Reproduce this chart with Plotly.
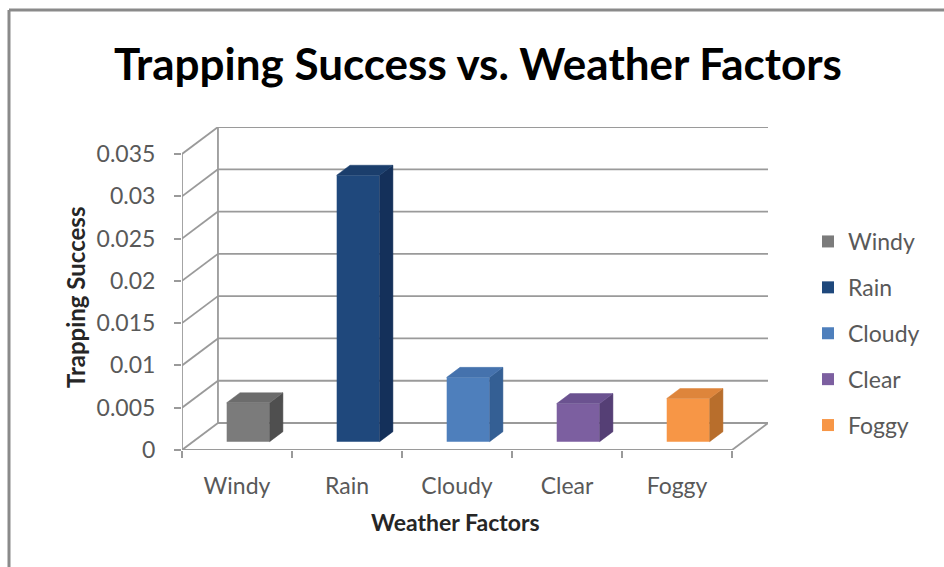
import plotly.graph_objects as go

# ---------------- data ----------------
categories = ["Windy", "Rain", "Cloudy", "Clear", "Foggy"]
values = [0.0046, 0.0315, 0.0076, 0.0045, 0.0051]
y_tick_values = [0, 0.005, 0.01, 0.015, 0.02, 0.025, 0.03, 0.035]
y_tick_labels = ["0", "0.005", "0.01", "0.015", "0.02", "0.025", "0.03", "0.035"]
front_colors = ["#7b7b7b", "#1f487c", "#4e7fbc", "#7c5fa0", "#f79646"]
side_colors = ["#4f4f4f", "#14305a", "#345f94", "#553f75", "#b86e2c"]
top_colors = ["#6c6c6c", "#1b3e6c", "#4572ad", "#6b5290", "#de853b"]

# ---------------- geometry (3-D look) ----------------
W_PX, H_PX = 944, 567
L, R, T, B = 182, 768, 127, 450          # plot area in pixels
DX = 0.327          # depth offset in category units
DY = 0.00319        # depth offset in value units
ZF, ZB = 0.31, 0.68 # bar front/back depth fraction
BW = 0.39           # bar width
YMAX = y_tick_values[-1]
n = len(categories)

def px(xp):
    return (xp - L) / (R - L)

def py(yp):
    return (B - yp) / (B - T)

fig = go.Figure()

GRID = "#9a9a9a"
segments = []
for v in y_tick_values:
    segments.append((-0.5, v, -0.5 + DX, v + DY))
    segments.append((-0.5 + DX, v + DY, n - 0.5 + DX, v + DY))
segments.append((-0.5 + DX, DY, -0.5 + DX, YMAX + DY))   # back-left edge
segments.append((-0.5, 0, -0.5, YMAX))                   # front value axis
segments.append((-0.5, 0, n - 0.5, 0))                   # floor front edge
segments.append((n - 0.5, 0, n - 0.5 + DX, DY))          # floor right edge

shapes = []
for (x0, y0, x1, y1) in segments:
    shapes.append(dict(type="line", xref="x", yref="y", x0=x0, y0=y0, x1=x1, y1=y1,
                       layer="below", line=dict(color=GRID, width=1.8)))

# chart frame
shapes.append(dict(type="line", xref="paper", yref="paper", x0=px(9), x1=px(944),
                   y0=py(10), y1=py(10), line=dict(color="#8a8a8a", width=3)))
shapes.append(dict(type="line", xref="paper", yref="paper", x0=px(9), x1=px(9),
                   y0=py(10), y1=py(567), line=dict(color="#8a8a8a", width=3)))

# bars
for i, (cat, v) in enumerate(zip(categories, values)):
    fig.add_trace(go.Bar(
        x=[i + ZF * DX], y=[v], base=[ZF * DY], width=BW, name=cat,
        marker=dict(color=front_colors[i], line=dict(width=0)),
        legendgroup=cat, showlegend=True))
for i, (cat, v) in enumerate(zip(categories, values)):
    xl = i - BW / 2
    xr = i + BW / 2
    # side face
    fig.add_trace(go.Scatter(
        x=[xr + ZF * DX, xr + ZB * DX, xr + ZB * DX, xr + ZF * DX, xr + ZF * DX],
        y=[ZF * DY, ZB * DY, v + ZB * DY, v + ZF * DY, ZF * DY],
        fill="toself", fillcolor=side_colors[i], mode="lines",
        line=dict(color=side_colors[i], width=0.5), showlegend=False, hoverinfo="skip"))
    # top face
    fig.add_trace(go.Scatter(
        x=[xl + ZF * DX, xr + ZF * DX, xr + ZB * DX, xl + ZB * DX, xl + ZF * DX],
        y=[v + ZF * DY, v + ZF * DY, v + ZB * DY, v + ZB * DY, v + ZF * DY],
        fill="toself", fillcolor=top_colors[i], mode="lines",
        line=dict(color=top_colors[i], width=0.5), showlegend=False, hoverinfo="skip"))

FONT = "Lato, Carlito, 'Open Sans', sans-serif"
fig.update_layout(
    width=W_PX, height=H_PX,
    margin=dict(l=L, r=W_PX - R, t=T, b=H_PX - B),
    paper_bgcolor="white", plot_bgcolor="white",
    barmode="overlay",
    font=dict(family=FONT, color="#595959"),
    title=dict(text="<b>Trapping Success vs. Weather Factors</b>",
               x=478 / W_PX, xanchor="center", xref="container",
               y=1 - 65 / H_PX, yanchor="middle", yref="container",
               font=dict(family=FONT, size=44, color="#000000")),
    xaxis=dict(range=[-0.5, n - 0.5 + DX], tickmode="array",
               tickvals=list(range(n)), ticktext=categories,
               ticks="", showgrid=False, zeroline=False, showline=False,
               tickfont=dict(size=23, color="#595959"), ticklabelstandoff=20,
               minor=dict(tickmode="array", tickvals=[k - 0.5 for k in range(n + 1)],
                          ticks="outside", ticklen=7, tickcolor=GRID, tickwidth=1.8,
                          showgrid=False),
               fixedrange=True),
    yaxis=dict(range=[0, YMAX + DY], tickmode="array",
               tickvals=y_tick_values, ticktext=y_tick_labels,
               ticks="outside", ticklen=7, tickcolor=GRID, tickwidth=1.8,
               showgrid=False, zeroline=False, showline=False,
               tickfont=dict(size=23, color="#595959"), ticklabelstandoff=14,
               fixedrange=True),
    legend=dict(x=px(808), xanchor="left", y=py(220), yanchor="top",
                font=dict(size=23, color="#595959"), tracegroupgap=13,
                bgcolor="rgba(0,0,0,0)"),
    annotations=[
        dict(text="<b>Trapping Success</b>", x=px(75), y=py(298), xref="paper", yref="paper",
             xanchor="center", yanchor="middle",
             showarrow=False, textangle=-90, font=dict(family=FONT, size=24, color="#262626")),
        dict(text="<b>Weather Factors</b>", x=px(455), y=py(522), xref="paper", yref="paper",
             xanchor="center", yanchor="middle",
             showarrow=False, font=dict(family=FONT, size=23, color="#262626")),
    ],
    shapes=shapes,
)

fig.write_html("out.html")
